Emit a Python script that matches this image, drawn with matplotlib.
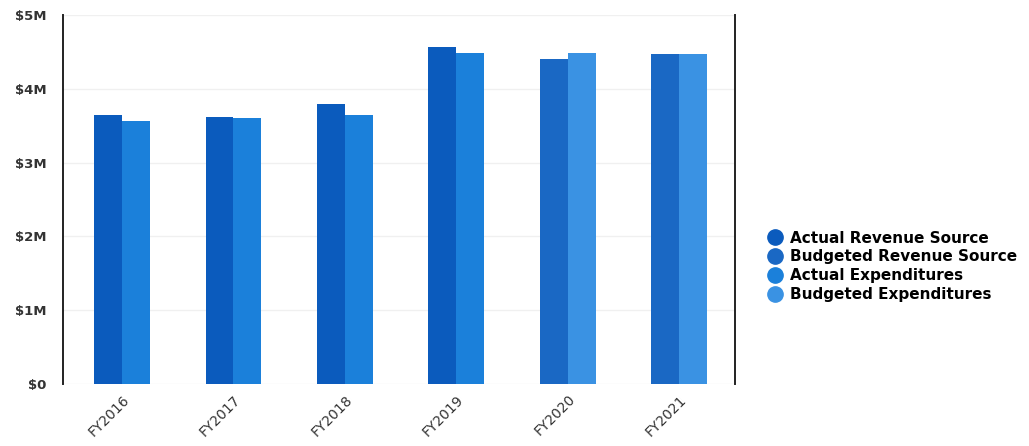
import numpy as np
import matplotlib
matplotlib.use('Agg')
import matplotlib.pyplot as plt
from matplotlib.lines import Line2D

years = ['FY2016', 'FY2017', 'FY2018', 'FY2019', 'FY2020', 'FY2021']
# values in $M; None where the series has no bar for that year
actual_revenue = [3.64, 3.62, 3.79, 4.57, None, None]
budgeted_revenue = [None, None, None, None, 4.41, 4.48]
actual_expenditures = [3.57, 3.61, 3.65, 4.49, None, None]
budgeted_expenditures = [None, None, None, None, 4.49, 4.48]

series_names = ['Actual Revenue Source', 'Budgeted Revenue Source',
                'Actual Expenditures', 'Budgeted Expenditures']
colors = ['#0b5bbd', '#1a68c4', '#1b80da', '#3a92e3']
y_ticks = [0, 1, 2, 3, 4, 5]
y_labels = ['$0', '$1M', '$2M', '$3M', '$4M', '$5M']

plt.rcParams['font.family'] = ['DejaVu Sans']

fig = plt.figure(figsize=(10.29, 4.46), dpi=100)
ax = fig.add_axes([0.0612, 0.139, 0.653, 0.827])

x = np.arange(len(years))
w = 0.25
all_series = [actual_revenue, budgeted_revenue, actual_expenditures, budgeted_expenditures]
offsets = [-w / 2, -w / 2, w / 2, w / 2]
for vals, off, c in zip(all_series, offsets, colors):
    xs = [xi + off for xi, v in zip(x, vals) if v is not None]
    hs = [v for v in vals if v is not None]
    ax.bar(xs, hs, width=w, color=c, zorder=2)

ax.set_xlim(-0.53, 5.5)
ax.set_ylim(0, 5)
ax.set_yticks(y_ticks)
ax.set_yticklabels(y_labels, fontsize=9.5, fontweight='bold', color='#333333')
ax.set_xticks(x)
ax.set_xticklabels(years, rotation=45, ha='right', rotation_mode='anchor',
                   fontsize=10, color='#333333')
ax.tick_params(axis='both', length=0)
ax.tick_params(axis='y', pad=12)
ax.tick_params(axis='x', pad=6)

ax.yaxis.grid(True, color='#f0f0f0', linewidth=1, zorder=0)
ax.set_axisbelow(True)

for s in ['top', 'bottom']:
    ax.spines[s].set_visible(False)
ax.spines['left'].set_color('#222222')
ax.spines['left'].set_linewidth(1.4)
ax.spines['right'].set_color('#222222')
ax.spines['right'].set_linewidth(1.4)

handles = [Line2D([0], [0], marker='o', linestyle='none', markersize=11,
                  markerfacecolor=c, markeredgecolor=c) for c in colors]
fig.legend(handles, series_names, loc='center left', bbox_to_anchor=(0.731, 0.403),
           frameon=False, handletextpad=0.4, labelspacing=0.25, handlelength=1.2,
           prop={'weight': 'bold', 'size': 11})

fig.savefig('out.png', dpi=100, facecolor='white')
